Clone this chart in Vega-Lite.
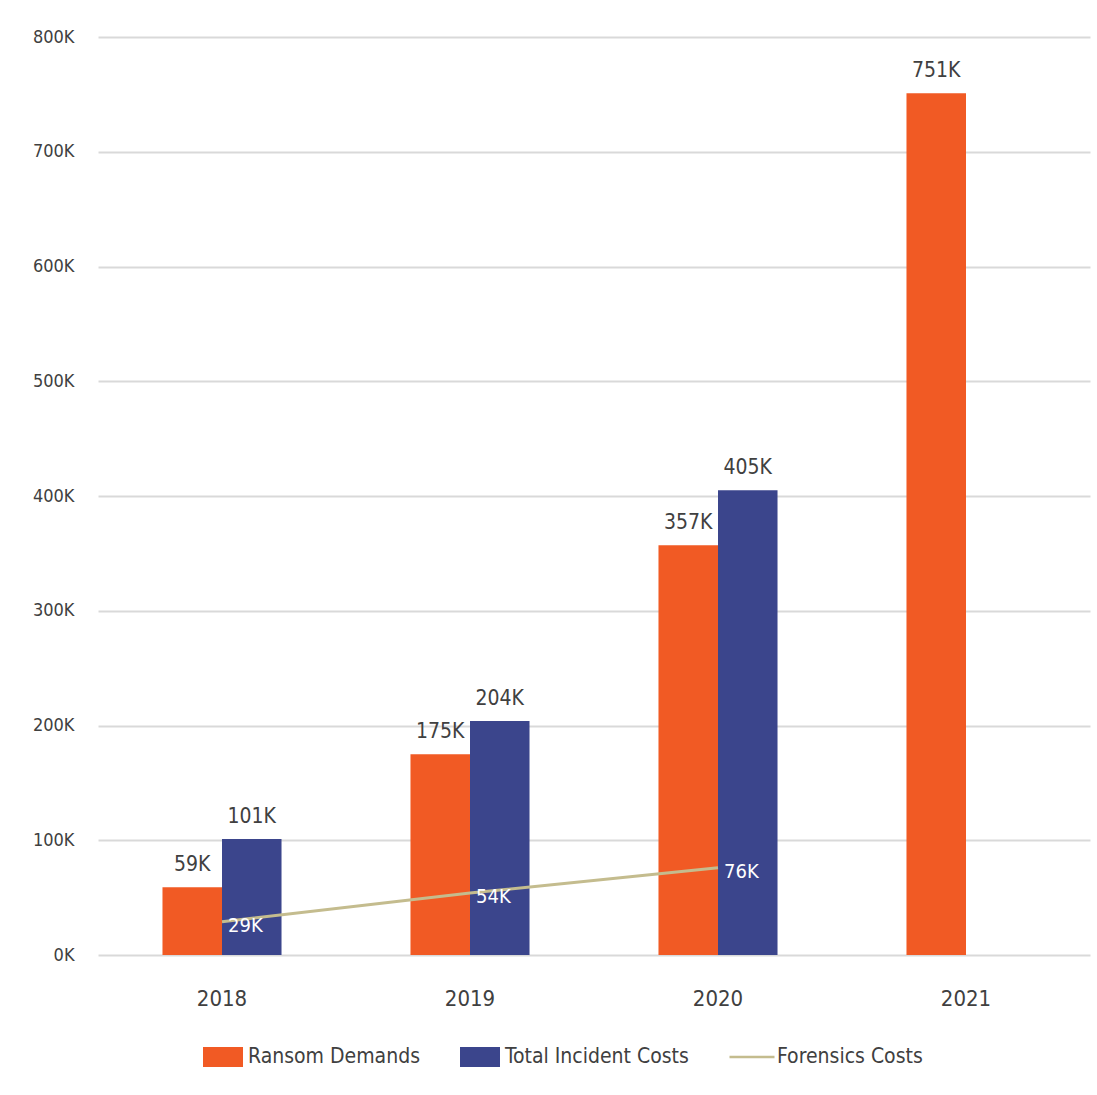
{
  "$schema": "https://vega.github.io/schema/vega-lite/v6.json",
  "width": 992,
  "height": 918,
  "autosize": {"type": "none"},
  "padding": {"left": 98, "top": 37, "right": 7, "bottom": 140},
  "background": "white",
  "config": {
    "font": "DejaVu Sans Condensed, Liberation Sans, sans-serif",
    "view": {"stroke": null}
  },
  "data": {
    "values": [
      {"year": "2018", "series": "Ransom Demands", "value": 59},
      {"year": "2018", "series": "Total Incident Costs", "value": 101},
      {"year": "2018", "series": "Forensics Costs", "value": 29},
      {"year": "2019", "series": "Ransom Demands", "value": 175},
      {"year": "2019", "series": "Total Incident Costs", "value": 204},
      {"year": "2019", "series": "Forensics Costs", "value": 54},
      {"year": "2020", "series": "Ransom Demands", "value": 357},
      {"year": "2020", "series": "Total Incident Costs", "value": 405},
      {"year": "2020", "series": "Forensics Costs", "value": 76},
      {"year": "2021", "series": "Ransom Demands", "value": 751}
    ]
  },
  "transform": [{"calculate": "datum.value + 'K'", "as": "label"}],
  "encoding": {
    "x": {
      "field": "year",
      "type": "nominal",
      "scale": {"paddingInner": 0.52, "paddingOuter": 0.26},
      "axis": {
        "title": null,
        "labelAngle": 0,
        "labelFontSize": 22,
        "labelColor": "#404040",
        "labelPadding": 33,
        "ticks": false,
        "domain": false,
        "grid": false
      }
    },
    "y": {
      "field": "value",
      "type": "quantitative",
      "scale": {"domain": [0, 800], "nice": false},
      "axis": {
        "title": null,
        "values": [0, 100, 200, 300, 400, 500, 600, 700, 800],
        "labelExpr": "datum.value + 'K'",
        "labelFontSize": 18,
        "labelColor": "#404040",
        "labelPadding": 24,
        "ticks": false,
        "domain": false,
        "grid": true,
        "gridColor": "#d9d9d9",
        "gridWidth": 2
      }
    }
  },
  "layer": [
    {
      "transform": [{"filter": "datum.series !== 'Forensics Costs'"}],
      "mark": {"type": "bar"},
      "encoding": {
        "xOffset": {
          "field": "series",
          "type": "nominal",
          "scale": {"domain": ["Ransom Demands", "Total Incident Costs"], "paddingInner": 0, "paddingOuter": 0}
        },
        "color": {
          "field": "series",
          "type": "nominal",
          "scale": {
            "domain": ["Ransom Demands", "Total Incident Costs", "Forensics Costs"],
            "range": ["#f15a24", "#3b458c", "#c4bc8e"]
          },
          "legend": {
            "title": null,
            "orient": "none",
            "legendX": 105,
            "legendY": 1000,
            "direction": "horizontal",
            "labelFontSize": 21,
            "labelColor": "#404040",
            "labelLimit": 0,
            "labelOffset": 5,
            "columnPadding": 40,
            "symbolSize": 1600,
            "symbolStrokeWidth": 0,
            "encode": {
              "symbols": {
                "update": {
                  "shape": {"signal": "datum.value === 'Forensics Costs' ? 'M-1.125,-0.06H1.125V0.06H-1.125Z' : 'M-1,-0.5H1V0.5H-1Z'"},
                  "fill": {"signal": "scale('color', datum.value)"},
                  "stroke": {"value": "transparent"},
                  "opacity": {"value": 1}
                }
              }
            }
          }
        }
      }
    },
    {
      "transform": [{"filter": "datum.series === 'Forensics Costs'"}],
      "mark": {"type": "line", "strokeWidth": 3},
      "encoding": {
        "color": {"field": "series", "type": "nominal"}
      }
    },
    {
      "transform": [{"filter": "datum.series !== 'Forensics Costs'"}],
      "mark": {"type": "text", "fontSize": 21, "baseline": "alphabetic", "dy": -16, "color": "#404040"},
      "encoding": {
        "xOffset": {"field": "series", "type": "nominal"},
        "text": {"field": "label", "type": "nominal"}
      }
    },
    {
      "transform": [{"filter": "datum.series === 'Forensics Costs'"}],
      "mark": {"type": "text", "fontSize": 20, "align": "left", "baseline": "middle", "dx": 6, "dy": 4, "color": "white"},
      "encoding": {
        "text": {"field": "label", "type": "nominal"}
      }
    }
  ]
}
